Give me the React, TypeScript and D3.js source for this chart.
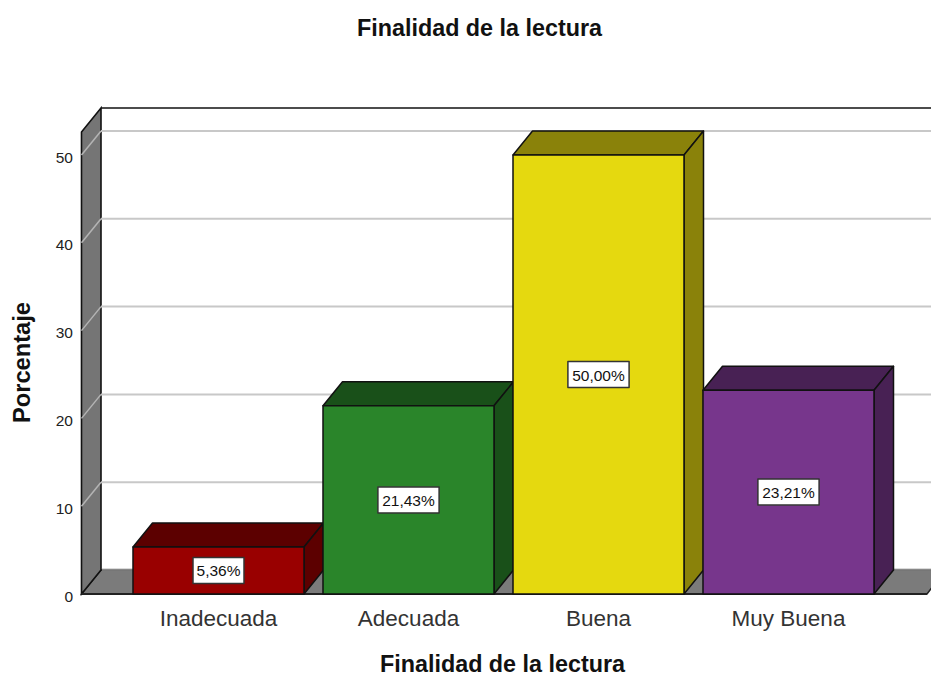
import React from "react";
import * as d3 from "d3";

const categories = ["Inadecuada", "Adecuada", "Buena", "Muy Buena"];
const values = [5.36, 21.43, 50.0, 23.21];
const valueLabels = ["5,36%", "21,43%", "50,00%", "23,21%"];
const frontColors = ["#990000", "#2a852a", "#e5d90f", "#77368c"];
const topColors = ["#5c0000", "#195019", "#8a820a", "#482154"];
const yTicks = [0, 10, 20, 30, 40, 50];

const DX = 19.5;
const DY = -24;
const FONT = "'Liberation Sans', Arial, sans-serif";

export default function App() {
  const y = d3.scaleLinear().domain([0, 52.62]).range([594, 132]);
  const x = d3.scaleBand<string>().domain(categories).range([123.5, 883.5]).paddingInner(0.1).paddingOuter(0.05);
  const wallL = 81.5;
  const right = 931;
  const poly = (p: [number, number][]) => p.map((q) => q.join(",")).join(" ");
  return (
    <svg width={931} height={675} style={{ position: "absolute", left: 0, top: 0, display: "block" }} fontFamily={FONT}>
      <rect width={931} height={675} fill="#ffffff" />
      <text x={479.5} y={35.5} textAnchor="middle" fontSize={23} fontWeight="bold" fill="#111" textLength={245} lengthAdjust="spacingAndGlyphs">Finalidad de la lectura</text>

      {/* back frame */}
      <line x1={wallL + DX} x2={right} y1={y(52.62) + DY} y2={y(52.62) + DY} stroke="#111" strokeWidth={1.6} />

      {/* floor */}
      <polygon
        points={poly([[wallL, y(0)], [wallL + DX, y(0) + DY], [945, y(0) + DY], [927, y(0)]])}
        fill="#7b7b7b"
        stroke="#222"
        strokeWidth={1.5}
      />
      <rect x={wallL + DX + 1} y={y(0) + DY - 2} width={right - wallL - DX} height={3} fill="#b5b5b5" opacity={0.5} />

      {/* left wall */}
      <polygon
        points={poly([[wallL, y(0)], [wallL, y(52.62)], [wallL + DX, y(52.62) + DY], [wallL + DX, y(0) + DY]])}
        fill="#757575"
        stroke="#111"
        strokeWidth={1.6}
      />

      {/* grid */}
      {yTicks.filter((t) => t > 0).map((t) => (
        <g key={t}>
          <line x1={wallL + DX} x2={right} y1={y(t) + DY} y2={y(t) + DY} stroke="#c8c8c8" strokeWidth={2} />
          <line x1={wallL} x2={wallL + DX} y1={y(t)} y2={y(t) + DY} stroke="#b4b4b4" strokeWidth={1.5} />
        </g>
      ))}

      {/* axis */}
      <line x1={wallL} x2={927} y1={y(0)} y2={y(0)} stroke="#222" strokeWidth={2} />
      {yTicks.map((t) => (
        <text key={t} x={73} y={y(t) + 7.5} textAnchor="end" fontSize={15.5} fill="#222">{t}</text>
      ))}

      {/* bars */}
      {categories.map((c, i) => {
        const x0 = x(c) as number;
        const x1 = x0 + x.bandwidth();
        const yT = y(values[i]);
        const yB = y(0);
        const bw = valueLabels[i].length * 10.2;
        const cx = (x0 + x1) / 2;
        const cy = (yT + yB) / 2;
        return (
          <g key={c} stroke="#111" strokeWidth={1.5} strokeLinejoin="round">
            <polygon points={poly([[x0, yT], [x0 + DX, yT + DY], [x1 + DX, yT + DY], [x1, yT]])} fill={topColors[i]} />
            <polygon points={poly([[x1, yT], [x1 + DX, yT + DY], [x1 + DX, yB + DY], [x1, yB]])} fill={topColors[i]} />
            <rect x={x0} y={yT} width={x.bandwidth()} height={yB - yT} fill={frontColors[i]} />
            <rect x={cx - bw / 2} y={cy - 13} width={bw} height={26} fill="#fff" stroke="#333" strokeWidth={1.5} />
            <text x={cx} y={cy + 6} textAnchor="middle" fontSize={15.5} fill="#111" stroke="none">{valueLabels[i]}</text>
          </g>
        );
      })}

      {/* category labels */}
      {categories.map((c) => (
        <text key={c} x={(x(c) as number) + x.bandwidth() / 2} y={625.5} textAnchor="middle" fontSize={22.5} fill="#333">{c}</text>
      ))}

      {/* axis titles */}
      <text x={502.5} y={671.5} textAnchor="middle" fontSize={23} fontWeight="bold" fill="#111" textLength={245} lengthAdjust="spacingAndGlyphs">Finalidad de la lectura</text>
      <text transform="translate(30,362.5) rotate(-90)" textAnchor="middle" fontSize={23} fontWeight="bold" fill="#111" textLength={121} lengthAdjust="spacingAndGlyphs">Porcentaje</text>
    </svg>
  );
}
